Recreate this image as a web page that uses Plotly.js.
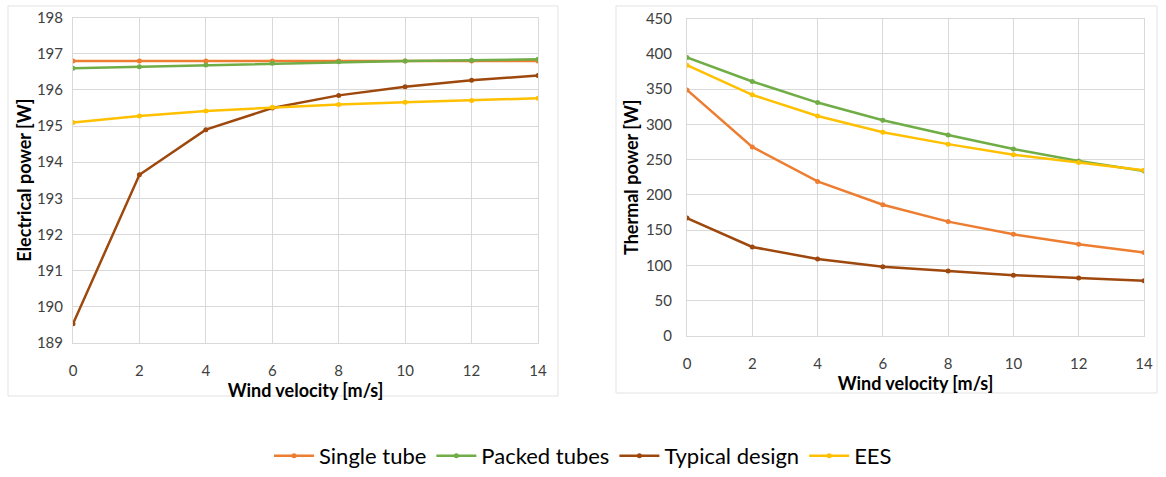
<!DOCTYPE html>
<html><head><meta charset="utf-8">
<script src="https://cdn.plot.ly/plotly-3.0.1.min.js"></script>
<style>html,body{margin:0;padding:0;background:#fff;}#chart{width:1166px;height:477px;}</style>
</head><body><div id="chart"></div>
<script>
const windVelocity = [0, 2, 4, 6, 8, 10, 12, 14];
const seriesNames = ["Single tube", "Packed tubes", "Typical design", "EES"];
const seriesColors = ["#ED7D31", "#70AD47", "#9E480E", "#FFC000"];

// Electrical power [W]
const elecSingleTube = [196.80, 196.80, 196.80, 196.80, 196.80, 196.80, 196.80, 196.80];
const elecPackedTubes = [196.60, 196.64, 196.69, 196.74, 196.78, 196.80, 196.82, 196.85];
const elecTypicalDesign = [189.52, 193.65, 194.90, 195.50, 195.85, 196.09, 196.27, 196.40];
const elecEES = [195.10, 195.28, 195.42, 195.52, 195.60, 195.66, 195.71, 195.77];

// Thermal power [W]
const thermSingleTube = [349, 268, 219, 186, 162, 144, 130, 118];
const thermPackedTubes = [395, 361, 331, 306, 285, 265, 248, 234];
const thermTypicalDesign = [167, 126, 109, 98, 92, 86, 82, 78];
const thermEES = [384, 342, 312, 289, 272, 257, 246, 235];

const elecSeries = [elecSingleTube, elecPackedTubes, elecTypicalDesign, elecEES];
const thermSeries = [thermSingleTube, thermPackedTubes, thermTypicalDesign, thermEES];

const traces = [];
seriesNames.forEach((name, i) => {
  traces.push({
    x: windVelocity, y: elecSeries[i], name: name, type: 'scatter', mode: 'lines+markers',
    line: {color: seriesColors[i], width: 2.5}, marker: {color: seriesColors[i], size: 5},
    xaxis: 'x', yaxis: 'y', legendgroup: name, showlegend: true
  });
});
seriesNames.forEach((name, i) => {
  traces.push({
    x: windVelocity, y: thermSeries[i], name: name, type: 'scatter', mode: 'lines+markers',
    line: {color: seriesColors[i], width: 2.5}, marker: {color: seriesColors[i], size: 5},
    xaxis: 'x2', yaxis: 'y2', legendgroup: name, showlegend: false
  });
});

const W = 1166, H = 477;
const px = v => v / W, py = v => 1 - v / H;
const grid = '#d9d9d9';
const tickFont = {family: 'Lato, sans-serif', size: 15, color: '#404040'};
const titleFont = {family: 'Lato, sans-serif', size: 18, color: '#000', weight: 'bold'};

const axisCommon = {
  showgrid: true, gridcolor: grid, gridwidth: 1, zeroline: false,
  showline: true, linecolor: grid, linewidth: 1, mirror: true,
  ticks: '', tickfont: tickFont, fixedrange: true
};

const layout = {
  width: W, height: H,
  margin: {l: 0, r: 0, t: 0, b: 0},
  paper_bgcolor: '#fff', plot_bgcolor: '#fff',
  showlegend: true,
  legend: {
    orientation: 'h', x: 0.5, xanchor: 'center', y: py(462), yanchor: 'middle',
    font: {family: 'Lato, sans-serif', size: 22, color: '#000'},
    itemwidth: 40, bgcolor: 'rgba(0,0,0,0)'
  },
  xaxis: Object.assign({}, axisCommon, {
    domain: [px(73), px(538)], range: [0, 14], dtick: 2, tick0: 0, anchor: 'y',
    ticklabelstandoff: 14,
    title: {text: 'Wind velocity [m/s]', font: titleFont, standoff: 2}
  }),
  yaxis: Object.assign({}, axisCommon, {
    domain: [py(347), py(18)], range: [189, 198], dtick: 1, anchor: 'x',
    ticklabelstandoff: 6,
    title: {text: 'Electrical power [W]', font: titleFont, standoff: 0}
  }),
  xaxis2: Object.assign({}, axisCommon, {
    domain: [px(687), px(1144)], range: [0, 14], dtick: 2, tick0: 0, anchor: 'y2',
    ticklabelstandoff: 14,
    title: {text: 'Wind velocity [m/s]', font: titleFont, standoff: 2}
  }),
  yaxis2: Object.assign({}, axisCommon, {
    domain: [py(340), py(19)], range: [0, 450], dtick: 50, anchor: 'x2',
    ticklabelstandoff: 11,
    title: {text: 'Thermal power [W]', font: titleFont, standoff: 2}
  }),
  shapes: [
    {type: 'rect', xref: 'paper', yref: 'paper', x0: px(8), x1: px(558), y0: py(401), y1: py(6), line: {color: '#e3e3e3', width: 1}},
    {type: 'rect', xref: 'paper', yref: 'paper', x0: px(616), x1: px(1157), y0: py(398), y1: py(6), line: {color: '#e3e3e3', width: 1}}
  ]
};

Plotly.newPlot('chart', traces, layout, {displayModeBar: false, staticPlot: true});
</script></body></html>
